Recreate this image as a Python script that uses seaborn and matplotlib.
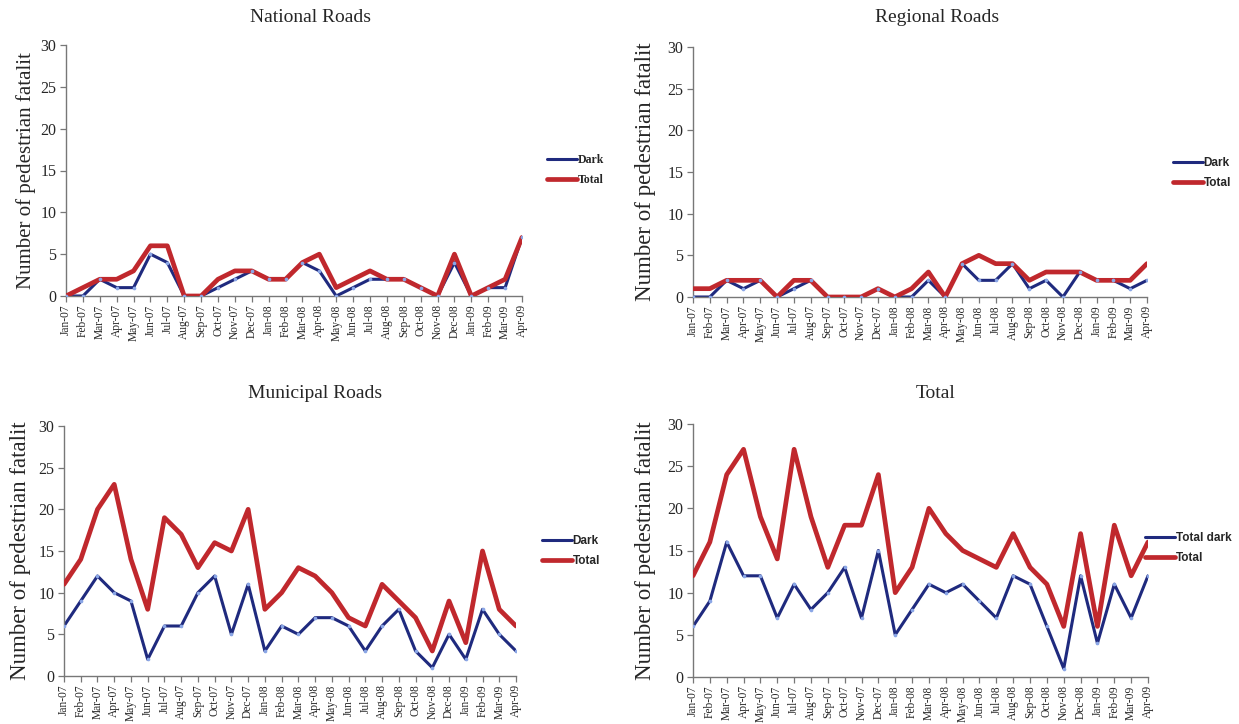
import matplotlib
matplotlib.use("Agg")
import matplotlib.pyplot as plt
import seaborn as sns

# Monthly pedestrian fatalities, Jan-07 .. Apr-09
MONTHS = ["Jan-07", "Feb-07", "Mar-07", "Apr-07", "May-07", "Jun-07", "Jul-07",
          "Aug-07", "Sep-07", "Oct-07", "Nov-07", "Dec-07", "Jan-08", "Feb-08",
          "Mar-08", "Apr-08", "May-08", "Jun-08", "Jul-08", "Aug-08", "Sep-08",
          "Oct-08", "Nov-08", "Dec-08", "Jan-09", "Feb-09", "Mar-09", "Apr-09"]

NAT_DARK  = [0, 0, 2, 1, 1, 5, 4, 0, 0, 1, 2, 3, 2, 2, 4, 3, 0, 1, 2, 2, 2, 1, 0, 4, 0, 1, 1, 7]
NAT_TOTAL = [0, 1, 2, 2, 3, 6, 6, 0, 0, 2, 3, 3, 2, 2, 4, 5, 1, 2, 3, 2, 2, 1, 0, 5, 0, 1, 2, 7]

REG_DARK  = [0, 0, 2, 1, 2, 0, 1, 2, 0, 0, 0, 1, 0, 0, 2, 0, 4, 2, 2, 4, 1, 2, 0, 3, 2, 2, 1, 2]
REG_TOTAL = [1, 1, 2, 2, 2, 0, 2, 2, 0, 0, 0, 1, 0, 1, 3, 0, 4, 5, 4, 4, 2, 3, 3, 3, 2, 2, 2, 4]

MUN_DARK  = [6, 9, 12, 10, 9, 2, 6, 6, 10, 12, 5, 11, 3, 6, 5, 7, 7, 6, 3, 6, 8, 3, 1, 5, 2, 8, 5, 3]
MUN_TOTAL = [11, 14, 20, 23, 14, 8, 19, 17, 13, 16, 15, 20, 8, 10, 13, 12, 10, 7, 6, 11, 9, 7, 3, 9, 4, 15, 8, 6]

ALL_DARK  = [6, 9, 16, 12, 12, 7, 11, 8, 10, 13, 7, 15, 5, 8, 11, 10, 11, 9, 7, 12, 11, 6, 1, 12, 4, 11, 7, 12]
ALL_TOTAL = [12, 16, 24, 27, 19, 14, 27, 19, 13, 18, 18, 24, 10, 13, 20, 17, 15, 14, 13, 17, 13, 11, 6, 17, 6, 18, 12, 16]

YTICKS = [0, 5, 10, 15, 20, 25, 30]
YLABEL = "Number of pedestrian fatalit"

DARK_C  = "#1f2a7e"
TOTAL_C = "#c0282d"
DOT_C   = "#8aa6e6"

W, H = 1239, 724

sns.set_style("ticks")
plt.rcParams["font.family"] = ["Liberation Serif", "DejaVu Serif"]

fig = plt.figure(figsize=(W / 100, H / 100), dpi=100)

# (title, dark, total, dark label, axes box in px [l, r, top, bottom],
#  title centre px, ylabel coord, legend left/centre px, legend font, ylabel size)
panels = [
    ("National Roads", NAT_DARK, NAT_TOTAL, "Dark", (66, 522, 45, 296),
     (310, 18), -0.066, (547, 170), "Liberation Serif", 15),
    ("Regional Roads", REG_DARK, REG_TOTAL, "Dark", (693, 1147, 47, 297),
     (937, 18), -0.081, (1173, 173), "Liberation Sans", 16.5),
    ("Municipal Roads", MUN_DARK, MUN_TOTAL, "Dark", (64, 516, 426, 676),
     (315, 393), -0.073, (542, 551), "Liberation Sans", 16.5),
    ("Total", ALL_DARK, ALL_TOTAL, "Total dark", (693, 1148, 424, 677),
     (936, 393), -0.081, (1145, 548), "Liberation Sans", 16.5),
]

for title, dark, total, dlab, box, tpos, ylx, lpos, lfont, ylsize in panels:
    l, r, t, b = box
    ax = fig.add_axes([l / W, 1 - b / H, (r - l) / W, (b - t) / H])

    sns.lineplot(x=MONTHS, y=dark, ax=ax, color=DARK_C, lw=2.2, sort=False,
                 label=dlab, zorder=2)
    sns.lineplot(x=MONTHS, y=total, ax=ax, color=TOTAL_C, lw=3.4, sort=False,
                 label="Total", zorder=3)
    sns.scatterplot(x=MONTHS, y=dark, ax=ax, color=DOT_C, s=7, linewidth=0,
                    legend=False, zorder=4)

    ax.set_xlim(0, len(MONTHS) - 1)
    ax.set_ylim(0, 30)
    ax.set_yticks(YTICKS)
    ax.set_xticks(range(len(MONTHS)))
    ax.set_xticklabels(MONTHS, rotation=90, fontsize=8.3)
    ax.tick_params(axis="y", labelsize=11.5, length=4, width=0.9, color="#777777", pad=3)
    ax.tick_params(axis="x", length=4, width=0.9, color="#777777", pad=2)
    for side in ("top", "right"):
        ax.spines[side].set_visible(False)
    for side in ("left", "bottom"):
        ax.spines[side].set_color("#777777")
        ax.spines[side].set_linewidth(1.0)

    ax.set_xlabel("")
    ax.set_ylabel(YLABEL, fontsize=ylsize)
    ax.yaxis.set_label_coords(ylx, 0.5)

    fig.text(tpos[0] / W, 1 - tpos[1] / H, title, ha="center", va="center",
             fontsize=14)

    ax.legend(loc="center left", bbox_to_anchor=(lpos[0] / W, 1 - lpos[1] / H),
              bbox_transform=fig.transFigure, frameon=False, borderaxespad=0,
              borderpad=0, handlelength=2.5, handletextpad=0.1,
              labelspacing=0.7, prop={"family": lfont, "size": 8.5,
                                      "weight": "bold"})

fig.savefig("out.png", dpi=100)
